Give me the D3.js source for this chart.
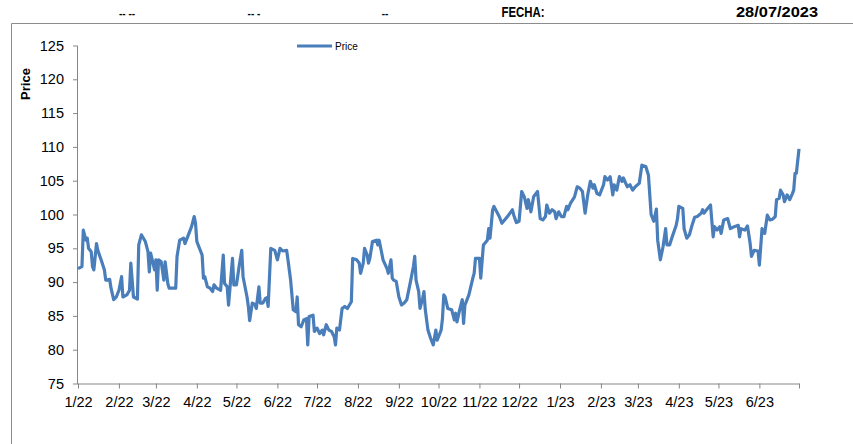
<!DOCTYPE html>
<html>
<head>
<meta charset="utf-8">
<script src="https://cdn.jsdelivr.net/npm/d3@7"></script>
<style>
  body { margin: 0; background: #fff; }
  svg { display: block; font-family: "Liberation Sans", Arial, sans-serif; }
</style>
</head>
<body>
<svg id="chart" width="853" height="444"></svg>
<script>
// header cells above the chart
const headerTexts = ['-- --', '-- -', '--', 'FECHA:', '28/07/2023'];

const seriesName = 'Price';
const yTicks = [75, 80, 85, 90, 95, 100, 105, 110, 115, 120, 125];
const tickLabels = ['1/22', '2/22', '3/22', '4/22', '5/22', '6/22', '7/22', '8/22', '9/22', '10/22',
  '11/22', '12/22', '1/23', '2/23', '3/23', '4/23', '5/23', '6/23', ''];

// price series
const dates = [
  '2022-01-01','2022-01-04','2022-01-05','2022-01-07','2022-01-08','2022-01-09','2022-01-11','2022-01-12','2022-01-13','2022-01-15',
  '2022-01-16','2022-01-19','2022-01-21','2022-01-22','2022-01-25','2022-01-26','2022-01-28','2022-01-30','2022-02-01','2022-02-03',
  '2022-02-04','2022-02-07','2022-02-09','2022-02-10','2022-02-12','2022-02-15','2022-02-16','2022-02-18','2022-02-21','2022-02-23',
  '2022-02-24','2022-02-25','2022-02-28','2022-03-01','2022-03-02','2022-03-03','2022-03-05','2022-03-07','2022-03-08','2022-03-10',
  '2022-03-11','2022-03-16','2022-03-17','2022-03-19','2022-03-22','2022-03-23','2022-03-25','2022-03-28','2022-03-30','2022-03-31',
  '2022-04-01','2022-04-05','2022-04-06','2022-04-07','2022-04-09','2022-04-11','2022-04-13','2022-04-14','2022-04-16','2022-04-19',
  '2022-04-21','2022-04-22','2022-04-24','2022-04-25','2022-04-28','2022-04-29','2022-05-01','2022-05-03','2022-05-05','2022-05-06',
  '2022-05-09','2022-05-10','2022-05-11','2022-05-13','2022-05-15','2022-05-16','2022-05-18','2022-05-19','2022-05-21','2022-05-23',
  '2022-05-24','2022-05-25','2022-05-27','2022-05-30','2022-06-01','2022-06-03','2022-06-05','2022-06-08','2022-06-09','2022-06-11',
  '2022-06-13','2022-06-15','2022-06-16','2022-06-17','2022-06-19','2022-06-21','2022-06-23','2022-06-24','2022-06-25','2022-06-28',
  '2022-06-29','2022-07-01','2022-07-03','2022-07-05','2022-07-06','2022-07-08','2022-07-10','2022-07-12','2022-07-14','2022-07-15',
  '2022-07-16','2022-07-18','2022-07-20','2022-07-22','2022-07-24','2022-07-27','2022-07-28','2022-07-31','2022-08-02','2022-08-03',
  '2022-08-05','2022-08-06','2022-08-08','2022-08-09','2022-08-10','2022-08-12','2022-08-15','2022-08-16','2022-08-17','2022-08-19',
  '2022-08-20','2022-08-23','2022-08-24','2022-08-26','2022-08-27','2022-08-28','2022-08-30','2022-09-01','2022-09-03','2022-09-05',
  '2022-09-07','2022-09-10','2022-09-12','2022-09-13','2022-09-14','2022-09-16','2022-09-17','2022-09-19','2022-09-20','2022-09-21',
  '2022-09-23','2022-09-25','2022-09-27','2022-09-29','2022-09-30','2022-10-03','2022-10-04','2022-10-05','2022-10-06','2022-10-08',
  '2022-10-11','2022-10-13','2022-10-14','2022-10-15','2022-10-17','2022-10-19','2022-10-20','2022-10-21','2022-10-24','2022-10-27',
  '2022-10-28','2022-10-29','2022-11-01','2022-11-02','2022-11-04','2022-11-07','2022-11-08','2022-11-09','2022-11-11','2022-11-12',
  '2022-11-16','2022-11-18','2022-11-21','2022-11-23','2022-11-26','2022-11-27','2022-11-29','2022-12-01','2022-12-03','2022-12-05',
  '2022-12-07','2022-12-08','2022-12-10','2022-12-12','2022-12-13','2022-12-15','2022-12-17','2022-12-19','2022-12-21','2022-12-22',
  '2022-12-24','2022-12-26','2022-12-28','2022-12-29','2022-12-31','2023-01-02','2023-01-04','2023-01-06','2023-01-07','2023-01-09',
  '2023-01-12','2023-01-14','2023-01-16','2023-01-18','2023-01-20','2023-01-22','2023-01-24','2023-01-26','2023-01-27','2023-01-29',
  '2023-01-31','2023-02-03','2023-02-04','2023-02-06','2023-02-08','2023-02-10','2023-02-11','2023-02-13','2023-02-15','2023-02-17',
  '2023-02-18','2023-02-21','2023-02-23','2023-02-25','2023-02-27','2023-03-02','2023-03-04','2023-03-07','2023-03-09','2023-03-11',
  '2023-03-13','2023-03-15','2023-03-16','2023-03-18','2023-03-20','2023-03-22','2023-03-23','2023-03-25','2023-03-27','2023-03-30',
  '2023-03-31','2023-04-01','2023-04-04','2023-04-05','2023-04-07','2023-04-09','2023-04-11','2023-04-13','2023-04-15','2023-04-18',
  '2023-04-19','2023-04-20','2023-04-22','2023-04-25','2023-04-27','2023-04-28','2023-04-30','2023-05-02','2023-05-03','2023-05-05',
  '2023-05-08','2023-05-10','2023-05-13','2023-05-16','2023-05-17','2023-05-18','2023-05-21','2023-05-23','2023-05-25','2023-05-26',
  '2023-05-28','2023-05-31','2023-06-01','2023-06-03','2023-06-05','2023-06-07','2023-06-09','2023-06-11','2023-06-13','2023-06-14',
  '2023-06-16','2023-06-17','2023-06-19','2023-06-20','2023-06-22','2023-06-24','2023-06-26','2023-06-27','2023-06-28','2023-06-29',
  '2023-07-01'
];
const prices = [
  92.0,92.3,97.7,96.2,96.5,95.0,94.5,92.3,91.8,95.7,
  94.7,93.0,91.8,90.3,90.4,89.1,87.4,87.8,88.8,90.8,
  87.8,88.1,88.8,92.8,87.8,87.5,95.5,97.0,96.0,94.5,
  91.5,94.3,91.8,93.3,88.8,93.3,93.0,90.3,93.0,89.8,
  89.1,89.1,93.8,96.2,96.5,95.7,96.7,98.2,99.7,98.7,
  96.0,94.0,90.6,90.8,89.3,89.1,88.6,89.6,89.1,88.8,
  94.0,89.8,89.3,86.6,93.5,89.6,89.6,92.3,94.7,90.8,
  87.8,86.4,84.3,86.9,86.7,86.1,89.3,86.9,86.9,87.6,
  87.7,86.4,95.0,94.7,93.3,95.0,94.6,94.7,93.3,90.3,
  85.9,85.6,87.8,83.7,83.4,84.4,84.6,80.7,84.9,85.1,
  82.7,83.2,82.4,82.9,82.2,83.7,82.9,82.7,81.9,80.7,
  83.2,82.9,86.1,86.4,86.1,87.1,93.5,93.3,92.8,91.3,
  92.8,95.0,94.0,92.8,93.5,96.0,96.2,95.5,96.2,94.3,
  93.3,92.0,91.3,93.3,90.6,90.3,90.1,87.8,86.6,86.9,
  87.4,90.3,92.3,93.8,90.3,88.6,86.1,87.6,88.6,85.9,
  82.9,81.7,80.7,82.9,81.4,82.9,84.6,88.1,87.8,86.1,
  85.9,84.4,85.4,84.1,85.9,87.4,83.9,86.6,88.1,90.6,
  91.3,93.5,93.5,90.6,95.5,96.2,97.9,96.5,100.7,101.2,
  99.7,98.7,99.4,99.9,100.7,99.9,98.8,99.0,103.4,102.6,
  100.9,102.2,100.4,102.6,102.9,103.4,99.4,99.2,99.7,101.4,
  100.2,100.7,100.4,99.4,100.4,99.7,99.7,101.2,100.7,101.7,
  102.6,104.1,103.9,103.4,100.2,102.9,104.9,103.9,104.4,103.1,
  102.9,104.4,105.6,105.1,105.6,102.9,104.4,103.6,105.6,104.9,
  105.4,104.1,104.4,103.6,104.1,104.6,107.3,107.1,105.8,100.0,
  99.0,100.8,96.2,93.3,95.2,97.9,95.5,95.5,96.7,98.4,
  99.4,101.2,100.9,97.9,96.5,97.0,98.4,99.6,99.7,100.2,
  100.7,100.2,100.7,101.4,96.7,98.2,97.7,98.2,97.2,99.2,
  99.4,97.9,98.2,98.4,96.7,97.9,97.7,98.3,95.7,93.8,
  94.7,94.6,92.5,97.9,97.2,99.9,99.2,99.3,99.7,102.2,
  102.4,103.6,102.9,101.9,102.9,102.2,103.1,103.6,106.1,106.1,
  109.7
];

const parse = d3.timeParse('%Y-%m-%d');
const data = dates.map((d, i) => ({ date: parse(d), price: prices[i] }));

const svg = d3.select('#chart');
const margin = { top: 45.5, right: 54, bottom: 60.5, left: 78 };
const width = 853 - margin.left - margin.right;
const height = 444 - margin.top - margin.bottom;
const axisColour = '#868686';
const lineColour = '#4a7ebb';

// outer frame (only top and left edges are visible)
svg.append('path')
  .attr('d', 'M11.5,444 V23.5 H853')
  .attr('fill', 'none')
  .attr('stroke', '#8c8c8c')
  .attr('stroke-width', 1);

// header row
const headerX = [127, 254, 385, 523, 777];
const headerWidth = [null, null, null, 43, 82];
svg.selectAll('text.header')
  .data(headerTexts)
  .join('text')
  .attr('class', 'header')
  .attr('x', (d, i) => headerX[i])
  .attr('y', 17)
  .attr('text-anchor', 'middle')
  .attr('font-size', (d, i) => i < 3 ? 10 : 14)
  .attr('font-weight', 'bold')
  .attr('fill', '#000')
  .each(function (d, i) {
    if (headerWidth[i]) {
      d3.select(this).attr('textLength', headerWidth[i]).attr('lengthAdjust', 'spacingAndGlyphs');
    }
  })
  .text(d => d);

const x = d3.scaleTime()
  .domain([parse('2022-01-01'), parse('2023-07-01')])
  .range([0, width]);
const y = d3.scaleLinear()
  .domain([75, 125])
  .range([height, 0]);

const g = svg.append('g').attr('transform', `translate(${margin.left},${margin.top})`);

// y axis
const yAxis = g.append('g')
  .call(d3.axisLeft(y).tickValues(yTicks).tickSize(5).tickPadding(9));
// x axis
const monthTicks = d3.timeMonth.range(parse('2022-01-01'), parse('2023-07-02'));
const xAxis = g.append('g')
  .attr('transform', `translate(0,${height})`)
  .call(d3.axisBottom(x).tickValues(monthTicks).tickSize(5).tickSizeOuter(0)
    .tickFormat((d, i) => tickLabels[i]).tickPadding(8));

[yAxis, xAxis].forEach(a => {
  a.select('.domain').attr('stroke', axisColour);
  a.selectAll('.tick line').attr('stroke', axisColour);
  a.selectAll('.tick text').attr('font-size', 14.5).attr('fill', '#000')
    .attr('font-family', '"Liberation Sans", Arial, sans-serif');
});
yAxis.select('.domain').attr('d', `M-0.5,0.5V${height + 0.5}`);

// axis title
svg.append('text')
  .attr('transform', 'translate(30,84) rotate(-90)')
  .attr('text-anchor', 'middle')
  .attr('font-size', 13)
  .attr('font-weight', 'bold')
  .text('Price');

// price line
const line = d3.line()
  .x(d => x(d.date))
  .y(d => y(d.price));

g.append('path')
  .datum(data)
  .attr('fill', 'none')
  .attr('stroke', lineColour)
  .attr('stroke-width', 3.2)
  .attr('stroke-linejoin', 'round')
  .attr('d', line);

// legend
const legend = svg.append('g').attr('transform', 'translate(297,46)');
legend.append('line')
  .attr('x1', 0).attr('x2', 35)
  .attr('stroke', lineColour)
  .attr('stroke-width', 3.2);
legend.append('text')
  .attr('x', 38)
  .attr('y', 3.5)
  .attr('font-size', 10)
  .text(seriesName);
</script>
</body>
</html>
